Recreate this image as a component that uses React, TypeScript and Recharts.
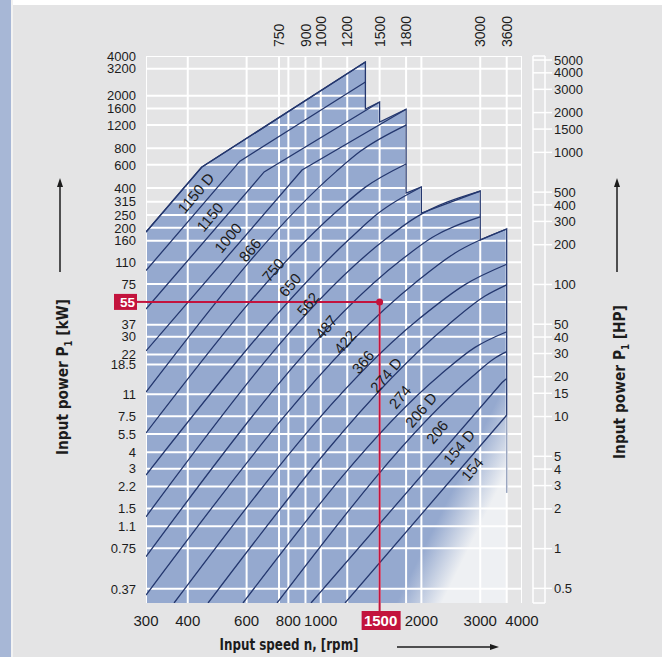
import React from 'react'
import {
  ComposedChart, Area, Line, Scatter, XAxis, YAxis, CartesianGrid, ReferenceDot
} from 'recharts'

// axis ticks
const kwTicks = [4000, 3200, 2000, 1600, 1200, 800, 600, 400, 315, 250, 200, 160, 110, 75, 55, 37, 30, 22, 18.5, 11, 7.5, 5.5, 4, 3, 2.2, 1.5, 1.1, 0.75, 0.37]
const hpTicks = [5000, 4000, 3000, 2000, 1500, 1000, 500, 400, 300, 200, 100, 50, 40, 30, 20, 15, 10, 5, 4, 3, 2, 1, 0.5]
const rpmTicks = [300, 400, 600, 800, 1000, 1500, 2000, 3000, 4000]
const rpmTopTicks = [750, 900, 1000, 1200, 1500, 1800, 3000, 3600]
const rpmGrid = [300, 400, 600, 750, 800, 900, 1000, 1200, 1500, 1800, 2000, 3000, 3600, 4000]

// gear sizes: [rpm, kW] points
const sizeNames = ['1150 D', '1150', '1000', '866', '750', '650', '562', '487', '422', '366', '274 D', '274', '206 D', '206', '154 D', '154']
const sizeCurves: number[][][] = [
  [[300, 186], [440, 575], [1360, 3600]],
  [[300, 95], [573, 640], [1360, 2540]],
  [[300, 48.6], [677, 530], [1500, 1795]],
  [[300, 23.4], [879, 548], [1800, 1580]],
  [[300, 11.4], [1111, 533], [1310, 756], [1800, 1200]],
  [[300, 5.6], [1125, 272], [1357, 405], [1800, 609]],
  [[300, 2.69], [1223, 166], [1482, 257], [2000, 408]],
  [[300, 1.3], [1557, 163], [1914, 238], [3000, 380]],
  [[300, 0.648], [1762, 117], [2153, 169], [3000, 242]],
  [[300, 0.332], [1914, 76.5], [2522, 129], [3600, 196]],
  [[364, 0.289], [1981, 41.5], [2701, 74.4], [3600, 106]],
  [[460, 0.289], [2403, 36.8], [3101, 60.9], [3600, 74]],
  [[585, 0.289], [2274, 15.4], [2893, 24.9], [3600, 32.7]],
  [[740, 0.289], [2836, 14.9], [3323, 20.7], [3600, 23.1]],
  [[935, 0.289], [3486, 13.5], [3600, 14.5]],
  [[1182, 0.289], [3561, 7.4], [3600, 7.66]],
]
const labelRpm = [423, 466, 528, 614, 720, 809, 916, 1037, 1182, 1338, 1568, 1726, 1995, 2228, 2593, 2836]
const labelKw = [367, 242, 168, 136, 96, 73.9, 53, 35.5, 27.4, 19.3, 15.4, 10.5, 8.36, 5.7, 4.39, 2.99]

// outline of the shaded field
const envRpm = [300, 440, 1360, 1360, 1500, 1500, 1800, 1800, 2000, 2000, 3000, 3000, 3600, 3600]
const envKw = [186, 575, 3600, 1588, 1795, 1265, 1580, 367, 408, 259, 380, 162, 196, 7.66]
// faded lower end of the 3600 rpm edge
const tailRpm = [3600, 3600]
const tailKw = [7.66, 1.97]

// selection example: 55 kW at 1500 rpm
const pickRpm = [300, 1500, 1500]
const pickKw = [55, 55, 0.289]

const KW_MIN = 0.289
const KW_MAX = 4000
const RPM_MIN = 300
const RPM_MAX = 4000
const HP_PER_KW = 1.341

const W = 662
const H = 657
const BLUE = '#95a9cf'
const NAVY = '#24376e'
const RED = '#c3133d'
const GRAY = '#e4e4e5'
const INK = '#1c1c1c'
const TITLE_FONT = "'Liberation Sans Narrow', 'DejaVu Sans Condensed', sans-serif"

const toPts = (xs: number[], ys: number[]) => xs.map((n, i) => ({ n, kw: ys[i] }))
const envelope = toPts(envRpm, envKw)
const tail = toPts(tailRpm, tailKw)
const pick = toPts(pickRpm, pickKw)
const curves = sizeCurves.map((c) => c.map(([n, kw]) => ({ n, kw })))
const labels = labelRpm.map((n, i) => ({ n, kw: labelKw[i], name: sizeNames[i] }))
const gridH = kwTicks.map((v) => [{ n: RPM_MIN, kw: v }, { n: RPM_MAX, kw: v }])
const gridV = rpmGrid.map((v) => [{ n: v, kw: KW_MIN }, { n: v, kw: KW_MAX }])

function LeftTick({ x, y, payload }: any) {
  const v = payload.value
  if (v === 55) {
    return (
      <g>
        <rect x={x - 22} y={y - 8} width={23} height={16} fill={RED} />
        <line x1={x} x2={x + 10} y1={y} y2={y} stroke={RED} strokeWidth={2} />
        <text x={x - 1} y={y} dy="0.36em" textAnchor="end" fill="#fff" fontSize={13.5} fontWeight="bold">{v}</text>
      </g>
    )
  }
  return <text x={x} y={y} dy="0.36em" textAnchor="end" fill={INK} fontSize={13}>{v}</text>
}

function BottomTick({ x, y, payload }: any) {
  const v = payload.value
  if (v === 1500) {
    return (
      <g>
        <line x1={x} x2={x} y1={y - 8} y2={y} stroke={RED} strokeWidth={2} />
        <rect x={x - 18} y={y} width={39} height={19} fill={RED} />
        <text x={x + 1} y={y + 15} textAnchor="middle" fill="#fff" fontSize={15} fontWeight="bold">{v}</text>
      </g>
    )
  }
  return <text x={x} y={y + 15} textAnchor="middle" fill={INK} fontSize={15}>{v}</text>
}

function TopTick({ x, y, payload }: any) {
  return (
    <text x={x} y={y} dy="0.36em" transform={`rotate(-90 ${x} ${y})`} textAnchor="start" fill={INK} fontSize={14}>
      {payload.value}
    </text>
  )
}

function SizeLabel({ cx, cy, payload }: any) {
  return (
    <text x={cx} y={cy} dy="0.36em" transform={`rotate(-50 ${cx} ${cy})`} textAnchor="middle" fill={INK} fontSize={15}>
      {payload.name}
    </text>
  )
}

export default function App() {
  return (
    <div style={{ position: 'absolute', left: 0, top: 0, width: W, height: H, background: GRAY, fontFamily: "'Liberation Sans', Arial, sans-serif" }}>
      <div style={{ position: 'absolute', left: 0, top: 0, width: W, height: 5, background: '#fff' }} />
      <div style={{ position: 'absolute', left: 0, top: 0, width: 11, height: H, background: '#a7b7d6', borderRight: '2px solid #f2f2f2' }} />

      <div style={{ position: 'absolute', left: 0, top: 0 }}>
        <ComposedChart width={W} height={H} margin={{ top: 0, right: 140, bottom: 0, left: 0 }}>
          <defs>
            <linearGradient id="fade" x1="0" y1="0" x2="1.083" y2="0.805">
              <stop offset="0" stopColor={BLUE} />
              <stop offset="0.855" stopColor={BLUE} />
              <stop offset="0.93" stopColor="#eef0f3" />
              <stop offset="1" stopColor="#eef0f3" />
            </linearGradient>
          </defs>
          <XAxis xAxisId="b" dataKey="n" type="number" scale="log" domain={[RPM_MIN, RPM_MAX]} ticks={rpmTicks}
            interval={0} height={54} axisLine={false} tickLine={false} tickSize={0} tickMargin={8}
            tick={(p: any) => <BottomTick {...p} />} allowDataOverflow />
          <XAxis xAxisId="t" orientation="top" dataKey="n" type="number" scale="log" domain={[RPM_MIN, RPM_MAX]}
            ticks={rpmTopTicks} interval={0} height={56} axisLine={false} tickLine={false} tickSize={0}
            tickMargin={9} tick={(p: any) => <TopTick {...p} />} allowDataOverflow />
          <YAxis yAxisId="kw" dataKey="kw" type="number" scale="log" domain={[KW_MIN, KW_MAX]} ticks={kwTicks}
            interval={0} width={146} axisLine={false} tickLine={false} tickSize={0} tickMargin={10}
            tick={(p: any) => <LeftTick {...p} />} allowDataOverflow />

          <Area xAxisId="b" yAxisId="kw" data={envelope} dataKey="kw" type="linear" baseValue={KW_MIN}
            fill="url(#fade)" fillOpacity={1} stroke="none" isAnimationActive={false} />

          {gridH.map((g, i) => (
            <Line key={'h' + i} xAxisId="b" yAxisId="kw" data={g} dataKey="kw" type="linear"
              stroke="#fff" strokeWidth={2} dot={false} isAnimationActive={false} />
          ))}
          {gridV.map((g, i) => (
            <Line key={'v' + i} xAxisId="b" yAxisId="kw" data={g} dataKey="kw" type="linear"
              stroke="#fff" strokeWidth={2} dot={false} isAnimationActive={false} />
          ))}

          <Line xAxisId="b" yAxisId="kw" data={envelope} dataKey="kw" type="linear"
            stroke={NAVY} strokeWidth={1.3} dot={false} isAnimationActive={false} />
          <Line xAxisId="b" yAxisId="kw" data={tail} dataKey="kw" type="linear"
            stroke="#9aa6c0" strokeWidth={1.5} dot={false} isAnimationActive={false} />
          {curves.map((c, i) => (
            <Line key={sizeNames[i]} xAxisId="b" yAxisId="kw" data={c} dataKey="kw"
              type={c.length > 3 ? 'monotone' : 'linear'}
              stroke={NAVY} strokeWidth={1.3} dot={false} isAnimationActive={false} />
          ))}

          <Line xAxisId="b" yAxisId="kw" data={pick} dataKey="kw" type="linear" stroke={RED}
            strokeWidth={2} dot={false} isAnimationActive={false} />
          <ReferenceDot xAxisId="b" yAxisId="kw" x={1500} y={55} r={3.5} fill={RED} stroke="none" />

          <Scatter xAxisId="b" yAxisId="kw" data={labels} dataKey="kw" shape={(p: any) => <SizeLabel {...p} />}
            isAnimationActive={false} />
        </ComposedChart>
      </div>

      <div style={{ position: 'absolute', left: 0, top: 0 }}>
        <ComposedChart width={W} height={H} margin={{ top: 56, right: 67, bottom: 54, left: 533 }}>
          <CartesianGrid stroke="#fff" strokeWidth={1.5} />
          <XAxis dataKey="x" type="number" domain={[0, 1]} ticks={[0, 1]} hide />
          <YAxis orientation="right" type="number" scale="log" domain={[KW_MIN * HP_PER_KW, KW_MAX * HP_PER_KW]}
            ticks={hpTicks} interval={0} width={50} axisLine={false} tickSize={7} tickMargin={2}
            tickLine={{ stroke: '#fff', strokeWidth: 1.5 }} tick={{ fill: INK, fontSize: 13 }} allowDataOverflow />
        </ComposedChart>
      </div>

      <svg width={W} height={H} style={{ position: 'absolute', left: 0, top: 0 }}>
        <g fontFamily={TITLE_FONT} fontWeight="bold" fill={INK}>
          <text x={289} y={650} textAnchor="middle" fontSize={15} textLength={139} lengthAdjust="spacingAndGlyphs">
            Input speed n, [rpm]
          </text>
          <text x={62} y={377} textAnchor="middle" fontSize={16} transform="rotate(-90 62 377)" dy="0.35em"
            textLength={156} lengthAdjust="spacingAndGlyphs">
            Input power P<tspan fontSize={10} dy={4}>1</tspan><tspan dy={-4}> [kW]</tspan>
          </text>
          <text x={619} y={382} textAnchor="middle" fontSize={16} transform="rotate(-90 619 382)" dy="0.35em"
            textLength={154} lengthAdjust="spacingAndGlyphs">
            Input power P<tspan fontSize={10} dy={4}>1</tspan><tspan dy={-4}> [HP]</tspan>
          </text>
        </g>
        <g stroke={INK} strokeWidth={1.5} fill={INK}>
          <line x1={397} y1={647} x2={492} y2={647} />
          <polygon points="499,647 490,644 490,650" stroke="none" />
          <line x1={60} y1={272} x2={60} y2={186} />
          <polygon points="60,178 57,187 63,187" stroke="none" />
          <line x1={617} y1={272} x2={617} y2={186} />
          <polygon points="617,178 614,187 620,187" stroke="none" />
        </g>
      </svg>
    </div>
  )
}
